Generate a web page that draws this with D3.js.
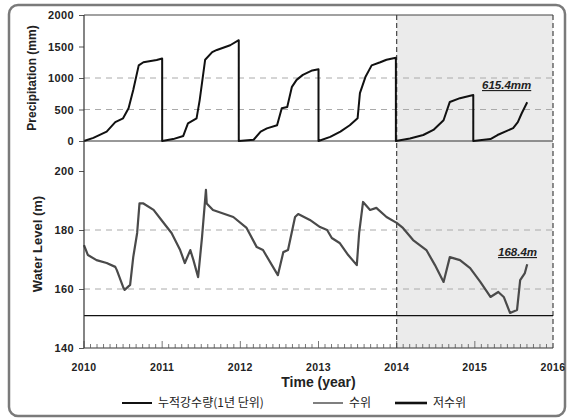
<!DOCTYPE html>
<html>
<head>
<meta charset="utf-8">
<script src="https://cdn.jsdelivr.net/npm/d3@7"></script>
<style>
body { margin: 0; background: #fff; }
text { font-family: "Liberation Sans", Arial, sans-serif; }
.kr { font-family: "Noto Sans CJK KR", sans-serif; }
</style>
</head>
<body>
<svg id="chart" width="572" height="420"></svg>
<script>
// cumulative precipitation (resets every year), decimal years
var precipYears = [2010.0, 2010.12, 2010.29, 2010.40, 2010.50, 2010.57, 2010.63, 2010.70, 2010.76, 2010.93, 2011.0,
  2011.0, 2011.14, 2011.27, 2011.33, 2011.44, 2011.48, 2011.55, 2011.64, 2011.70, 2011.87, 2011.98,
  2011.98, 2012.17, 2012.26, 2012.34, 2012.47, 2012.53, 2012.60, 2012.66, 2012.72, 2012.80, 2012.92, 2013.0,
  2013.0, 2013.15, 2013.28, 2013.40, 2013.50, 2013.53, 2013.60, 2013.68, 2013.79, 2013.87, 2013.99,
  2013.99, 2014.17, 2014.34, 2014.47, 2014.60, 2014.68, 2014.81, 2014.98,
  2014.98, 2015.20, 2015.29, 2015.41, 2015.49, 2015.55, 2015.60, 2015.67];
var precipValues = [0, 50, 150, 300, 360, 520, 810, 1200, 1250, 1285, 1310,
  0, 30, 80, 280, 360, 650, 1290, 1410, 1445, 1520, 1600,
  0, 20, 150, 200, 250, 520, 540, 860, 970, 1050, 1120, 1140,
  0, 65, 150, 250, 360, 760, 1015, 1200, 1250, 1290, 1320,
  0, 40, 95, 175, 330, 620, 680, 730,
  0, 30, 95, 160, 205, 300, 440, 615.4];

// reservoir water level (m)
var levelYears = [2010.0, 2010.05, 2010.16, 2010.29, 2010.40, 2010.42, 2010.50, 2010.52, 2010.59, 2010.63, 2010.68, 2010.71,
  2010.76, 2010.89, 2011.01, 2011.12, 2011.23, 2011.29, 2011.36, 2011.40, 2011.46, 2011.51, 2011.56, 2011.57,
  2011.65, 2011.91, 2012.08, 2012.21, 2012.29, 2012.48, 2012.55, 2012.61, 2012.70, 2012.74, 2012.89, 2013.02,
  2013.11, 2013.17, 2013.27, 2013.38, 2013.49, 2013.52, 2013.57, 2013.66, 2013.74, 2013.87, 2014.0, 2014.08,
  2014.21, 2014.38, 2014.49, 2014.60, 2014.68, 2014.81, 2014.94, 2015.07, 2015.20, 2015.30, 2015.37, 2015.45,
  2015.54, 2015.58, 2015.64, 2015.67];
var levelValues = [174.9, 171.5, 169.8, 168.8, 167.5, 166.4, 160.7, 159.7, 161.4, 170.8, 179, 189,
  189, 186.8, 182.7, 179, 173.2, 168.8, 173.2, 169.8, 164, 177.6, 193.6, 189,
  186.8, 184.4, 180.7, 174.2, 173.2, 164.7, 172.5, 173.2, 184.4, 185.4, 183.4, 181,
  180, 177.3, 175.6, 171.5, 168.1, 179, 189.5, 186.8, 187.5, 184.4, 182.4, 180.7,
  176.6, 173.2, 168.1, 162.4, 170.8, 169.8, 167.1, 162.4, 157.3, 159, 157.3, 151.9,
  152.9, 163, 165.4, 168.4];

var lowLevel = 151;
var yearTicks = [2010, 2011, 2012, 2013, 2014, 2015, 2016];
var precipTicks = [0, 500, 1000, 1500, 2000];
var precipGrid = [500, 1000];
var levelTicks = [140, 160, 180, 200];
var levelGrid = [160, 180];
var legendItems = ["누적강수량(1년 단위)", "수위", "저수위"];

var svg = d3.select("#chart");

// outer frame
svg.append("rect")
  .attr("x", 9).attr("y", 5).attr("width", 556).attr("height", 411)
  .attr("rx", 9)
  .attr("fill", "#fff").attr("stroke", "#7a7a7a").attr("stroke-width", 2.5);

var x = d3.scaleLinear().domain([2010, 2016]).range([84, 553]);
var yP = d3.scaleLinear().domain([0, 2000]).range([141, 15]);
var yL = d3.scaleLinear().domain([140, 200]).range([348, 171]);
var plotTop = 15, plotBottom = 348;

// shaded forecast period
svg.append("rect")
  .attr("x", x(2014)).attr("y", plotTop)
  .attr("width", x(2016) - x(2014)).attr("height", plotBottom - plotTop)
  .attr("fill", "#ebebeb");

// grid lines
svg.selectAll(".gp").data(precipGrid).enter().append("line")
  .attr("x1", x(2010)).attr("x2", x(2016))
  .attr("y1", function(d) { return yP(d); }).attr("y2", function(d) { return yP(d); })
  .attr("stroke", "#aaa").attr("stroke-dasharray", "6,5");
svg.selectAll(".gl").data(levelGrid).enter().append("line")
  .attr("x1", x(2010)).attr("x2", x(2016))
  .attr("y1", function(d) { return yL(d); }).attr("y2", function(d) { return yL(d); })
  .attr("stroke", "#aaa").attr("stroke-dasharray", "6,5");

// top border, zero line, dashed period borders
svg.append("line").attr("x1", x(2010)).attr("x2", x(2016)).attr("y1", plotTop).attr("y2", plotTop)
  .attr("stroke", "#444").attr("stroke-width", 1.2);
svg.append("line").attr("x1", x(2010)).attr("x2", x(2016)).attr("y1", yP(0)).attr("y2", yP(0))
  .attr("stroke", "#333").attr("stroke-width", 1);
[2014, 2016].forEach(function(t) {
  svg.append("line").attr("x1", x(t)).attr("x2", x(t)).attr("y1", plotTop).attr("y2", plotBottom)
    .attr("stroke", "#444").attr("stroke-width", 1.2).attr("stroke-dasharray", "5,3");
});

// low water level
svg.append("line").attr("x1", x(2010)).attr("x2", x(2016))
  .attr("y1", yL(lowLevel)).attr("y2", yL(lowLevel))
  .attr("stroke", "#111").attr("stroke-width", 1.3);

// lines
var precipData = precipYears.map(function(t, i) { return [t, precipValues[i]]; });
var levelData = levelYears.map(function(t, i) { return [t, levelValues[i]]; });

svg.append("path").datum(levelData)
  .attr("fill", "none").attr("stroke", "#4a4a4a").attr("stroke-width", 2.2)
  .attr("stroke-linejoin", "round")
  .attr("d", d3.line().x(function(d) { return x(d[0]); }).y(function(d) { return yL(d[1]); }));

svg.append("path").datum(precipData)
  .attr("fill", "none").attr("stroke", "#111").attr("stroke-width", 2)
  .attr("stroke-linejoin", "round")
  .attr("d", d3.line().x(function(d) { return x(d[0]); }).y(function(d) { return yP(d[1]); }));

// x axis with monthly minor ticks pointing inward
var months = d3.range(0, 72).map(function(i) { return 2010 + i / 12; });
svg.append("line").attr("x1", x(2010)).attr("x2", x(2016)).attr("y1", plotBottom).attr("y2", plotBottom)
  .attr("stroke", "#333").attr("stroke-width", 1.2);
svg.selectAll(".mt").data(months).enter().append("line")
  .attr("x1", function(d) { return x(d); }).attr("x2", function(d) { return x(d); })
  .attr("y1", plotBottom).attr("y2", function(d, i) { return i % 12 === 0 ? plotBottom - 7 : plotBottom - 4; })
  .attr("stroke", "#555").attr("stroke-width", 0.8);
svg.selectAll(".xl").data(yearTicks).enter().append("text")
  .attr("x", function(d) { return x(d); }).attr("y", 371)
  .attr("text-anchor", "middle")
  .style("font-size", "10.5px").style("font-weight", "bold").style("letter-spacing", "0.4px")
  .attr("fill", "#222")
  .text(function(d) { return d; });

// y axes
svg.append("g").attr("transform", "translate(" + x(2010) + ",0)")
  .call(d3.axisLeft(yP).tickValues(precipTicks).tickFormat(d3.format("d")).tickSize(5).tickPadding(5))
  .call(function(g) { g.select(".domain").remove(); });
svg.append("g").attr("transform", "translate(" + x(2010) + ",0)")
  .call(d3.axisLeft(yL).tickValues(levelTicks).tickFormat(d3.format("d")).tickSize(5).tickPadding(5))
  .call(function(g) { g.select(".domain").remove(); });
svg.selectAll(".tick text")
  .style("font-family", "Liberation Sans, Arial, sans-serif")
  .style("font-size", "11px").style("font-weight", "bold").style("letter-spacing", "0.4px")
  .attr("fill", "#222");
svg.selectAll(".tick line").attr("stroke", "#555");
svg.append("line").attr("x1", x(2010)).attr("x2", x(2010)).attr("y1", plotTop).attr("y2", plotBottom)
  .attr("stroke", "#333").attr("stroke-width", 1.2);

// axis titles
svg.append("text")
  .attr("transform", "translate(36,78) rotate(-90)")
  .attr("text-anchor", "middle")
  .style("font-size", "12px").style("font-weight", "bold").attr("fill", "#222")
  .text("Precipitation (mm)");
svg.append("text")
  .attr("transform", "translate(42,244) rotate(-90)")
  .attr("text-anchor", "middle")
  .style("font-size", "13px").style("font-weight", "bold").attr("fill", "#222")
  .text("Water Level (m)");
svg.append("text")
  .attr("x", (x(2010) + x(2016)) / 2).attr("y", 387)
  .attr("text-anchor", "middle")
  .style("font-size", "14px").style("font-weight", "bold").attr("fill", "#222")
  .text("Time (year)");

// annotations for latest values
svg.append("text")
  .attr("x", 482).attr("y", 89)
  .style("font-size", "11.5px").style("font-weight", "bold").style("font-style", "italic")
  .style("text-decoration", "underline").attr("fill", "#222")
  .text(precipValues[precipValues.length - 1] + "mm");
svg.append("text")
  .attr("x", 498).attr("y", 256)
  .style("font-size", "11.5px").style("font-weight", "bold").style("font-style", "italic")
  .style("text-decoration", "underline").attr("fill", "#222")
  .text(levelValues[levelValues.length - 1] + "m");

// legend
var legendX = [122, 313, 395];
var legendLen = [30, 30, 32];
var legendStyle = [
  {stroke: "#111", width: 2},
  {stroke: "#555", width: 1.5},
  {stroke: "#111", width: 2.6}
];
legendItems.forEach(function(name, i) {
  svg.append("line")
    .attr("x1", legendX[i]).attr("x2", legendX[i] + legendLen[i])
    .attr("y1", 403).attr("y2", 403)
    .attr("stroke", legendStyle[i].stroke).attr("stroke-width", legendStyle[i].width);
  svg.append("text")
    .attr("class", "kr")
    .attr("x", legendX[i] + legendLen[i] + 6).attr("y", 407)
    .style("font-size", "12px").attr("fill", "#222")
    .text(name);
});
</script>
</body>
</html>
